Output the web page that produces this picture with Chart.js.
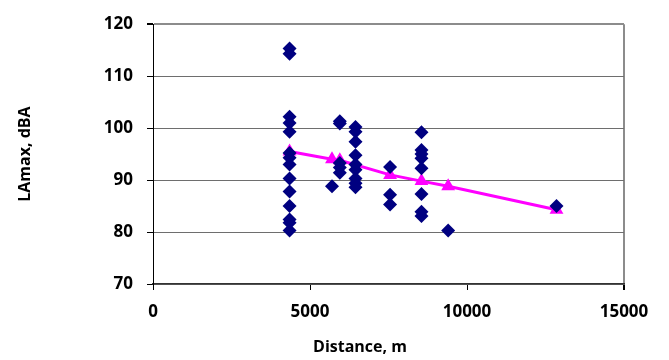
<!DOCTYPE html>
<html>
<head>
<meta charset="utf-8">
<script src="https://cdn.jsdelivr.net/npm/chart.js@4"></script>
<style>
    body { margin: 0; background: #fff; }
</style>
</head>
<body>
<canvas id="scatterChart" width="669" height="360"></canvas>
<script>
// Measured levels (diamonds)
const distances = [
    4350, 4350, 4350, 4350, 4350, 4350, 4350, 4350, 4350, 4350, 4350, 4350, 4350, 4350,
    5700,
    5950, 5950, 5950, 5950, 5950,
    6450, 6450, 6450, 6450, 6450, 6450, 6450, 6450, 6450,
    7550, 7550, 7550,
    8550, 8550, 8550, 8550, 8550, 8550, 8550, 8550,
    9400,
    12850
];
const levels = [
    115.3, 114.3, 102.2, 101.0, 99.3, 95.2, 94.3, 93.0, 90.3, 87.8, 85.0, 82.4, 81.8, 80.3,
    88.8,
    101.3, 100.9, 93.3, 92.4, 91.4,
    100.2, 99.3, 97.4, 94.8, 93.0, 92.0, 90.3, 89.4, 88.6,
    92.5, 87.2, 85.3,
    99.2, 95.8, 95.0, 94.2, 92.3, 87.3, 83.9, 83.1,
    80.3,
    85.0
];

// Predicted levels (triangles + line)
const trendDistances = [4350, 5700, 5950, 7550, 8550, 9400, 12850];
const trendLevels = [95.5, 94.0, 93.8, 91.0, 89.8, 88.8, 84.3];

const xTicks = [0, 5000, 10000, 15000];
const yTicks = [70, 80, 90, 100, 110, 120];

const fontFamily = '"Open Sans", "Liberation Sans", sans-serif';

// x axis title sits a bit left of the plot centre
const xTitlePlugin = {
    id: 'xTitle',
    afterDraw(chart) {
        const ctx = chart.ctx;
        ctx.save();
        ctx.font = 'bold 16px ' + fontFamily;
        ctx.fillStyle = '#000';
        ctx.textAlign = 'center';
        ctx.textBaseline = 'middle';
        ctx.fillText('Distance, m', 360, 347);
        ctx.restore();
    }
};

const ctx = document.getElementById('scatterChart').getContext('2d');
new Chart(ctx, {
    type: 'scatter',
    data: {
        datasets: [{
            label: 'Measured',
            data: distances.map((d, i) => ({x: d, y: levels[i]})),
            pointStyle: 'rectRot',
            pointRadius: 7,
            pointHoverRadius: 7,
            backgroundColor: '#000080',
            borderColor: '#000080',
            borderWidth: 0,
            order: 0
        }, {
            label: 'Predicted',
            data: trendDistances.map((d, i) => ({x: d, y: trendLevels[i]})),
            showLine: true,
            pointStyle: 'triangle',
            pointRadius: 8,
            pointHoverRadius: 8,
            backgroundColor: '#ff00ff',
            borderColor: '#ff00ff',
            borderWidth: 3,
            pointBorderWidth: 0,
            order: 1
        }]
    },
    options: {
        responsive: false,
        animation: false,
        layout: {
            padding: {left: 16, right: 45, top: 18, bottom: 0}
        },
        plugins: {
            legend: {display: false},
            tooltip: {enabled: false}
        },
        scales: {
            x: {
                type: 'linear',
                min: 0,
                max: 15000,
                afterBuildTicks: scale => {
                    scale.ticks = xTicks.map(v => ({value: v}));
                },
                afterFit: scale => {
                    scale.height = 76;
                },
                ticks: {
                    color: '#000',
                    font: {family: fontFamily, size: 17, weight: 'bold'},
                    padding: 12,
                    maxRotation: 0,
                    callback: v => String(v)
                },
                grid: {
                    color: c => c.tick && c.tick.value === 15000 ? '#8c8c8c' : 'rgba(0,0,0,0)',
                    lineWidth: c => c.tick && c.tick.value === 15000 ? 2 : 1,
                    tickColor: '#000',
                    tickLength: 6
                },
                border: {color: '#333', width: 1.5}
            },
            y: {
                type: 'linear',
                min: 70,
                max: 120,
                afterBuildTicks: scale => {
                    scale.ticks = yTicks.map(v => ({value: v}));
                },
                afterFit: scale => {
                    scale.width = 137;
                },
                ticks: {
                    color: '#000',
                    font: {family: fontFamily, size: 17, weight: 'bold'},
                    padding: 14,
                    callback: v => String(v)
                },
                grid: {
                    color: c => c.tick && c.tick.value === 120 ? '#8c8c8c' : '#6e6e6e',
                    lineWidth: c => c.tick && c.tick.value === 120 ? 2 : 1,
                    tickColor: '#000',
                    tickLength: 6
                },
                border: {color: '#000', width: 1},
                title: {
                    display: true,
                    text: 'LAmax, dBA',
                    color: '#000',
                    font: {family: fontFamily, size: 16, weight: 'bold'},
                    padding: {top: 0, bottom: 0}
                }
            }
        }
    },
    plugins: [xTitlePlugin]
});
</script>
</body>
</html>
